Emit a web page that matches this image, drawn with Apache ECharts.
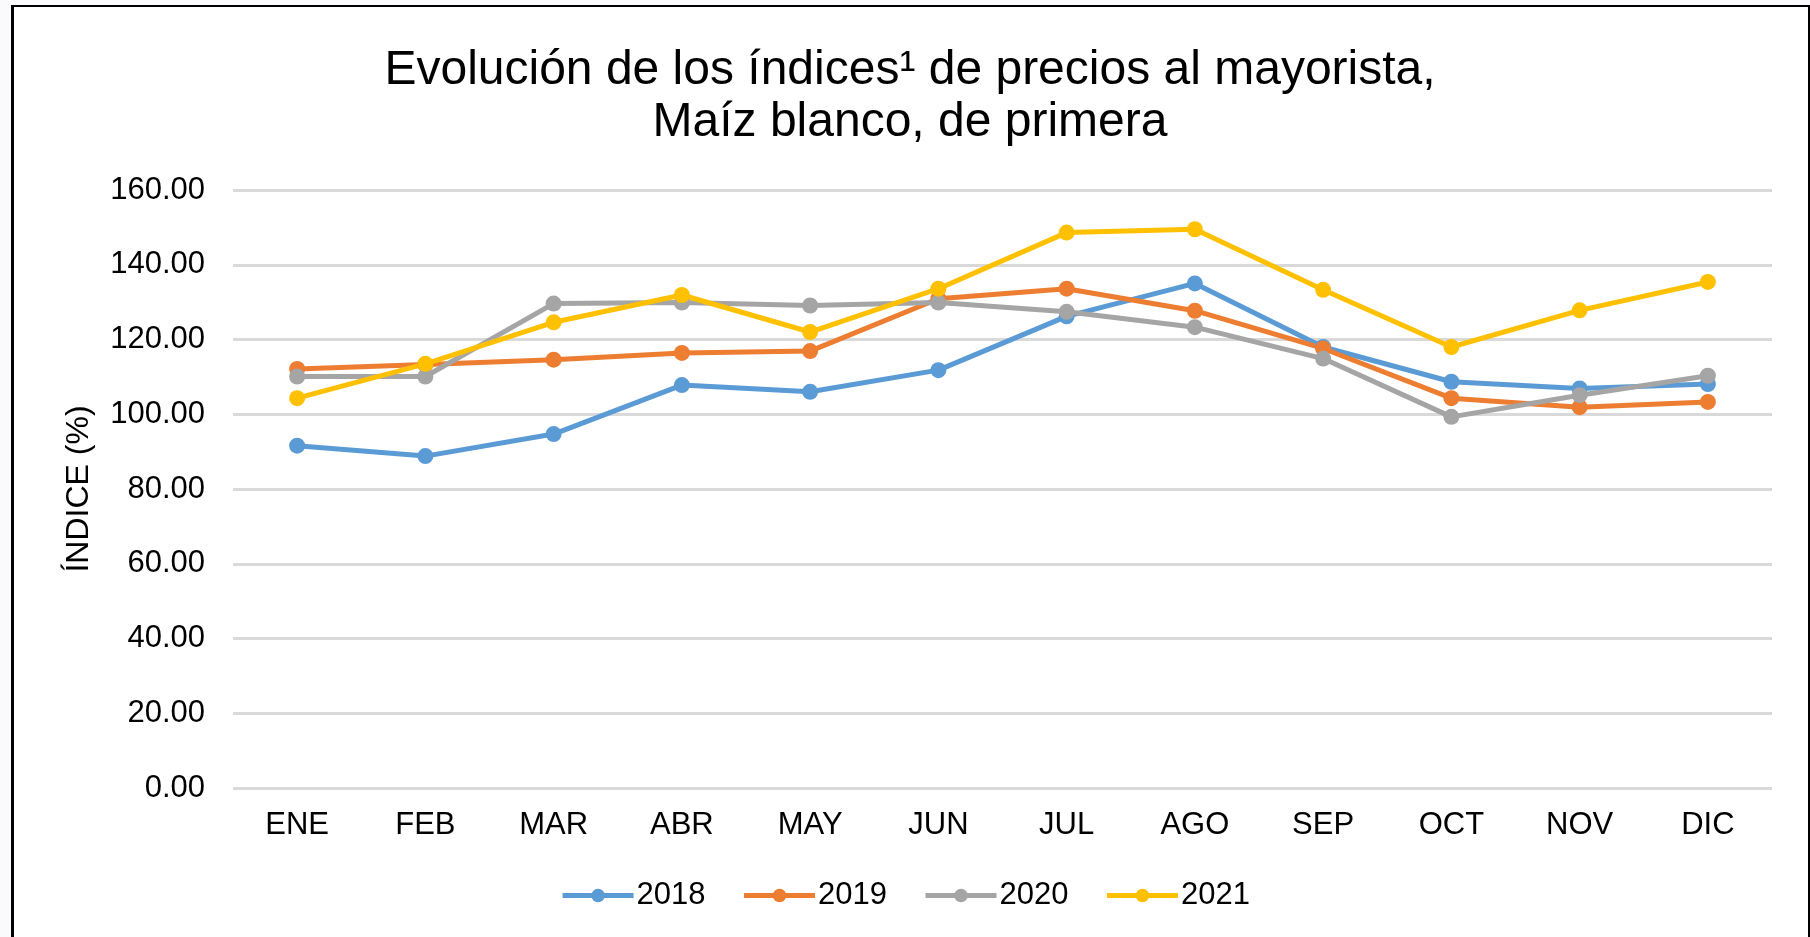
<!DOCTYPE html>
<html>
<head>
<meta charset="utf-8">
<title>Evolución de los índices de precios al mayorista</title>
<script src="https://cdn.jsdelivr.net/npm/echarts@6/dist/echarts.min.js"></script>
<style>
  html, body { margin: 0; padding: 0; background: #fafafd; }
  #frame {
    position: absolute; left: 11px; top: 5px; width: 1794px; height: 940px;
    border-left: 3px solid #000; border-top: 2px solid #000; border-right: 3px solid #000;
    background: #fff;
  }
  #container { position: absolute; left: 0; top: 0; width: 1810px; height: 937px; }
</style>
</head>
<body>
<div id="frame"></div>
<div id="container"></div>
<script>
  // meses
  var months = ['ENE', 'FEB', 'MAR', 'ABR', 'MAY', 'JUN', 'JUL', 'AGO', 'SEP', 'OCT', 'NOV', 'DIC']
  // índices por año
  var y2018 = [91.6, 88.8, 94.7, 107.8, 106.0, 111.8, 126.2, 135.0, 118.0, 108.7, 106.9, 108.1]
  var y2019 = [112.1, 113.3, 114.6, 116.4, 116.9, 130.9, 133.6, 127.7, 117.6, 104.3, 101.9, 103.3]
  var y2020 = [110.1, 110.1, 129.6, 129.9, 129.1, 129.9, 127.4, 123.3, 114.9, 99.3, 105.1, 110.3]
  var y2021 = [104.3, 113.5, 124.6, 131.9, 122.0, 133.6, 148.6, 149.5, 133.3, 118.0, 127.8, 135.4]
  var years = ['2018', '2019', '2020', '2021']
  var colors = ['#5B9BD5', '#ED7D31', '#A5A5A5', '#FFC000']

  var font = '"Liberation Sans", Arial, sans-serif'
  var dataList = [y2018, y2019, y2020, y2021]

  var series = []
  for (var i = 0; i < years.length; i++) {
    series.push({
      name: years[i],
      type: 'line',
      data: dataList[i],
      symbol: 'circle',
      symbolSize: 16,
      lineStyle: { width: 5, color: colors[i] },
      itemStyle: { color: colors[i] }
    })
  }

  var myChart = echarts.init(document.getElementById('container'))
  myChart.setOption({
    animation: false,
    backgroundColor: 'transparent',
    color: colors,
    title: {
      text: 'Evolución de los índices¹ de precios al mayorista,\nMaíz blanco, de primera',
      left: '50%',
      textAlign: 'center',
      top: 40,
      textStyle: {
        fontFamily: font,
        fontWeight: 'normal',
        fontSize: 48,
        lineHeight: 52,
        color: '#000'
      }
    },
    legend: {
      data: years,
      left: 'center',
      top: 875,
      itemWidth: 71,
      itemHeight: 17,
      itemGap: 36,
      lineStyle: { width: 5 },
      textStyle: { fontFamily: font, fontSize: 31, color: '#000', padding: [0, 0, 0, -2] }
    },
    grid: {
      left: 233,
      right: 38,
      top: 190,
      bottom: 149
    },
    xAxis: {
      type: 'category',
      data: months,
      boundaryGap: true,
      axisLine: { show: false },
      axisTick: { show: false },
      axisLabel: { fontFamily: font, fontSize: 31, color: '#000', margin: 22 }
    },
    yAxis: {
      type: 'value',
      min: 0,
      max: 160,
      interval: 20,
      name: 'ÍNDICE (%)',
      nameLocation: 'middle',
      nameRotate: 90,
      nameGap: 138,
      nameTextStyle: { fontFamily: font, fontSize: 32, color: '#000' },
      axisLine: { show: false },
      axisTick: { show: false },
      splitLine: { lineStyle: { color: '#D9D9D9', width: 3 } },
      axisLabel: {
        fontFamily: font,
        fontSize: 31,
        color: '#000',
        margin: 28,
        formatter: function (v) { return v.toFixed(2) }
      }
    },
    series: series
  })
</script>
</body>
</html>
